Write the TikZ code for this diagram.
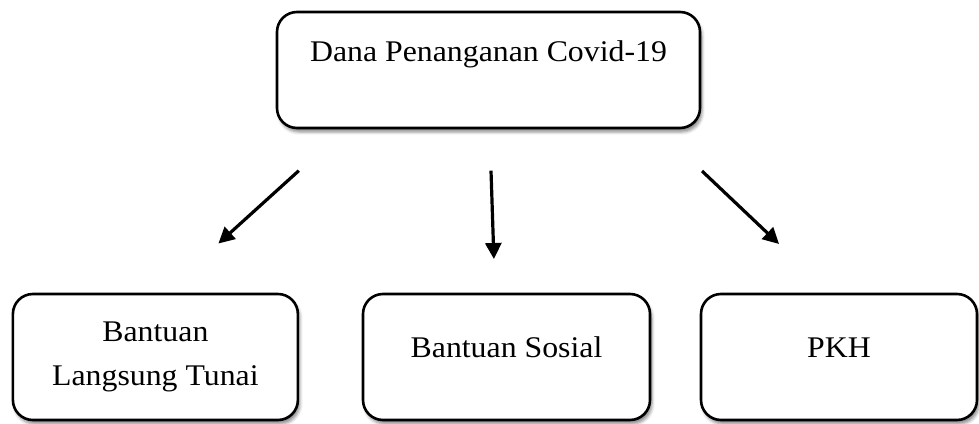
\documentclass[tikz,border=0pt]{standalone}
\usepackage{fontspec}
\setmainfont{Liberation Serif}[FakeStretch=1.06]
\usetikzlibrary{arrows.meta,shadows.blur}
\begin{document}
\begin{tikzpicture}[x=1pt,y=-1pt,
  box/.style={draw=black, line width=2.6pt, rounded corners=20pt, fill=white,
    align=center, inner sep=0pt,
    font=\fontsize{30}{44}\selectfont,
    blur shadow={shadow xshift=2pt, shadow yshift=-4pt, shadow blur radius=3pt, shadow opacity=45}},
  arr/.style={line width=3.2pt, -{Triangle[length=16pt,width=16pt]}}]
\useasboundingbox (0,0) rectangle (979,423);
\node[box, minimum width=423pt, minimum height=116pt, text height=21pt, text depth=39pt]
  (top) at (488.5,70) {Dana Penanganan Covid-19};
\node[box, minimum width=285pt, minimum height=126pt]
  (blt) at (155.4,357) {Bantuan\\Langsung Tunai};
\node[box, minimum width=287pt, minimum height=126pt, text height=20pt, text depth=20pt]
  (bs) at (506.5,357) {Bantuan Sosial};
\node[box, minimum width=276pt, minimum height=126pt, text height=20pt, text depth=20pt]
  (pkh) at (839,357) {PKH};
\coordinate (a1s) at (298.8,170.7);
\coordinate (a1e) at (218.4,243.5);
\coordinate (a2s) at (491,170.7);
\coordinate (a2e) at (493.9,259);
\coordinate (a3s) at (702,171);
\coordinate (a3e) at (779,244);
\draw[arr] (a1s) -- (a1e);
\draw[arr] (a2s) -- (a2e);
\draw[arr] (a3s) -- (a3e);
\end{tikzpicture}
\end{document}
